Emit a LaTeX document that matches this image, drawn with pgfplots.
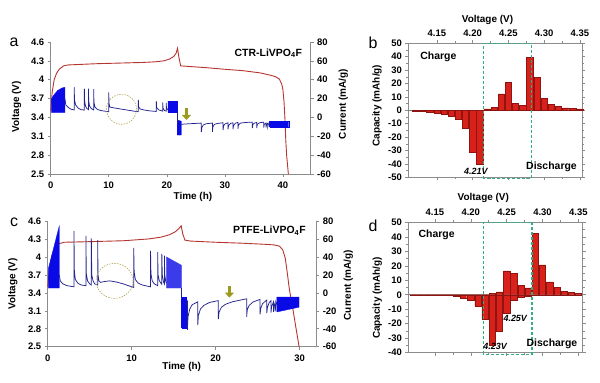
\documentclass[border=0pt]{standalone}
\usepackage{fontspec}
\setmainfont{Liberation Sans}
\usepackage{pgfplots}
\pgfplotsset{compat=1.18}
\usetikzlibrary{arrows.meta}

\definecolor{redc}{HTML}{B5342E}
\definecolor{bluef}{HTML}{0A0AE6}
\definecolor{bluel}{HTML}{23238F}
\definecolor{barfill}{HTML}{D8211B}
\definecolor{baredge}{HTML}{8E1410}
\definecolor{boxg}{HTML}{30B07E}
\definecolor{olivec}{HTML}{9C9A1E}
\definecolor{circc}{HTML}{B3A650}
\definecolor{axg}{HTML}{8C8C8C}

\pgfplotsset{
 base/.style={
  scale only axis,
  /pgf/number format/assume math mode=true,
  tick label style={font=\bfseries\fontsize{9.5}{11}\selectfont, text=black},
  label style={font=\bfseries\fontsize{10}{12}\selectfont},
  axis line style={axg, line width=0.6bp},
  tick style={axg, line width=0.5bp},
  major tick length=3bp, minor tick length=2bp,
  tick align=outside,
  clip=false,
 },
}

\begin{document}
\begin{tikzpicture}[x=1bp,y=1bp]
\useasboundingbox (0,0) rectangle (600,382);

% ---------------- panel a ----------------
\begin{axis}[base, at={(50.7bp,208bp)}, anchor=south west, width=260bp, height=132bp,
 xmin=0, xmax=44.8, ymin=2.5, ymax=4.6,
 axis x line*=bottom, axis y line*=left,
 xtick={0,10,20,30,40}, ytick={2.5,2.8,3.1,3.4,3.7,4.0,4.3,4.6},
 xlabel={Time (h)}, ylabel={Voltage (V)},
 xlabel style={at={(axis description cs:0.547,-0.172)}, anchor=center},
 ylabel style={at={(axis description cs:-0.131,0.51)}, anchor=center},
 xticklabel style={yshift=-1.5bp}]
\addplot[redc, line width=0.9bp] coordinates {(0,3.5)(0.25,3.8)(0.6,4.0)(1.0,4.1)(1.5,4.17)(2.2,4.22)(3,4.235)(8,4.255)(12,4.265)(16,4.275)(18,4.285)(19.5,4.3)(20.5,4.33)(21.2,4.37)(21.6,4.42)(21.85,4.5)(22.1,4.35)(22.4,4.22)(24,4.21)(27,4.19)(30,4.166)(33,4.145)(36,4.11)(37.7,4.075)(38.7,4.05)(39.4,4.01)(39.8,3.93)(40.0,3.85)(40.2,3.65)(40.35,3.4)(40.5,3.05)(40.65,2.8)(40.95,2.5)};
\addplot[fill=bluef, draw=bluef, line width=0.3bp] coordinates {(0.1,3.48)(0.1,3.68)(0.4,3.74)(0.75,3.78)(1.2,3.83)(1.6,3.85)(2.0,3.87)(2.45,3.88)(2.45,3.48)(0.1,3.48)};
\addplot[fill=bluef, draw=bluef, line width=0.3bp] coordinates {(20.2,3.49)(20.2,3.66)(21.8,3.66)(21.8,3.49)(20.2,3.49)};
\addplot[fill=bluef, draw=bluef, line width=0.3bp] coordinates {(21.8,3.12)(21.8,3.36)(22.5,3.34)(22.5,3.12)(21.8,3.12)};
\addplot[fill=bluef, draw=bluef, line width=0.3bp] coordinates {(37.7,3.24)(37.7,3.34)(41.0,3.34)(41.0,3.24)(37.7,3.24)};
\addplot[bluel, line width=0.75bp] coordinates {(2.45,3.7)(2.6,3.6)(3.0,3.56)(3.5,3.53)(4.05,3.52)(4.05,3.88)(4.1,3.68)(4.3,3.6)(4.7,3.55)(5.2,3.525)(5.8,3.515)(5.8,3.86)(5.85,3.66)(6.0,3.58)(6.2,3.545)(6.5,3.525)(6.5,3.86)(6.55,3.66)(6.7,3.58)(7.0,3.54)(7.4,3.52)(7.4,3.85)(7.45,3.65)(7.6,3.57)(8.0,3.53)(8.6,3.51)(9.3,3.5)(10.0,3.49)(10.0,3.8)(10.05,3.62)(10.2,3.565)(11,3.55)(12,3.535)(13,3.52)(14,3.505)(15.1,3.49)(15.1,3.68)(15.15,3.57)(15.4,3.535)(16,3.52)(17,3.505)(18.2,3.495)(18.2,3.66)(18.25,3.56)(18.6,3.52)(19.3,3.5)(19.3,3.64)(19.35,3.55)(19.6,3.51)(19.9,3.5)(19.9,3.63)(19.95,3.55)(20.2,3.52)};
\addplot[bluel, line width=0.75bp] coordinates {(21.8,3.49)(21.8,3.3)};
\addplot[bluel, line width=0.75bp] coordinates {(22.5,3.29)(23,3.295)(24,3.30)(25,3.305)(25.96,3.31)(25.96,3.165)(26.05,3.24)(26.3,3.28)(26.8,3.30)(27.86,3.31)(27.86,3.17)(27.95,3.25)(28.2,3.29)(28.8,3.305)(29.7,3.315)(29.7,3.2)(29.8,3.27)(30.1,3.3)(30.55,3.315)(30.55,3.21)(30.65,3.27)(31.0,3.305)(31.4,3.315)(31.4,3.21)(31.5,3.27)(31.85,3.31)(32.26,3.32)(32.26,3.22)(32.35,3.28)(32.7,3.31)(33.6,3.32)(34.74,3.325)(34.74,3.23)(34.85,3.29)(35.1,3.31)(35.5,3.32)(35.5,3.23)(35.6,3.29)(36.0,3.315)(36.7,3.325)(36.7,3.24)(36.8,3.29)(37.1,3.31)(37.1,3.24)(37.2,3.29)(37.4,3.31)(37.4,3.25)(37.5,3.29)(37.7,3.31)};
\draw[circc, line width=0.6bp, dash pattern=on 1.5bp off 1.2bp] (axis cs:12.2,3.53) circle[radius=15bp];
\draw[olivec, line width=3.5bp, -{Triangle[length=5bp,width=9bp]}] (axis cs:23.4,3.55) -- (axis cs:23.4,3.36);
\node[anchor=east, font=\bfseries\fontsize{10.5}{12}\selectfont] at (axis cs:43.9,4.42) {CTR-LiVPO\textsubscript{4}F};
\end{axis}
\begin{axis}[base, at={(50.7bp,208bp)}, anchor=south west, width=260bp, height=132bp,
 xmin=0, xmax=44.8, ymin=-60, ymax=80, axis y line*=right, axis x line=none,
 ytick={-60,-40,...,80}, ylabel={Current (mA/g)},
 ylabel style={at={(axis description cs:1.125,0.53)}, anchor=center}]
\addplot[draw=none] coordinates {(0,0)};
\end{axis}

% ---------------- panel c ----------------
\begin{axis}[base, at={(47.7bp,35.3bp)}, anchor=south west, width=268.6bp, height=125.7bp,
 xmin=0, xmax=32, ymin=2.5, ymax=4.6,
 axis x line*=bottom, axis y line*=left,
 xtick={0,10,20,30}, ytick={2.5,2.8,3.1,3.4,3.7,4.0,4.3,4.6},
 xlabel={Time (h)}, ylabel={Voltage (V)},
 xlabel style={at={(axis description cs:0.499,-0.159)}, anchor=center},
 ylabel style={at={(axis description cs:-0.13,0.5)}, anchor=center},
 xticklabel style={yshift=-1.5bp}]
\addplot[redc, line width=0.9bp] coordinates {(0,3.5)(0.2,3.8)(0.5,4.02)(0.9,4.16)(1.3,4.22)(2,4.245)(5,4.255)(9,4.27)(12,4.3)(13.5,4.33)(14.5,4.37)(15.2,4.42)(15.6,4.47)(15.9,4.52)(16.1,4.38)(16.35,4.28)(17,4.265)(20,4.245)(23,4.23)(26,4.21)(27,4.2)(27.6,4.18)(28.0,4.12)(28.3,3.98)(28.5,3.78)(28.8,3.45)(29.1,3.22)(29.5,2.88)(29.95,2.5)};
\addplot[fill=bluef, draw=bluef, line width=0.3bp] coordinates {(0.07,3.48)(0.07,3.8)(1.38,4.52)(1.38,3.48)(0.07,3.48)};
\addplot[fill=bluef!80, draw=bluef!80, line width=0.3bp] coordinates {(14.15,3.48)(14.15,4.0)(15.95,3.86)(15.95,3.48)(14.15,3.48)};
\addplot[fill=bluef, draw=bluef, line width=0.3bp] coordinates {(15.95,2.81)(15.95,3.33)(16.5,3.33)(16.5,2.81)(15.95,2.81)};
\addplot[fill=bluef, draw=bluef, line width=0.3bp] coordinates {(27.3,3.08)(27.3,3.33)(29.95,3.33)(29.95,3.16)(27.3,3.08)};
\addplot[bluel, line width=0.75bp] coordinates {(1.38,3.7)(1.5,3.6)(1.8,3.55)(2.3,3.52)(3.13,3.5)(3.13,4.43)(3.18,3.75)(3.3,3.62)(3.6,3.56)(4.0,3.53)(4.55,3.52)(4.55,4.35)(4.6,3.72)(4.75,3.6)(5.0,3.55)(5.2,3.53)(5.2,4.31)(5.25,3.7)(5.4,3.6)(5.6,3.55)(5.95,3.53)(5.95,4.28)(6.0,3.7)(6.1,3.6)(6.3,3.575)(6.8,3.59)(7.4,3.6)(8.2,3.58)(9.0,3.55)(9.6,3.52)(10.25,3.49)(10.25,4.15)(10.3,3.75)(10.45,3.62)(10.8,3.56)(11.3,3.53)(12.25,3.5)(12.25,4.1)(12.3,3.72)(12.45,3.6)(12.7,3.55)(13.1,3.52)(13.1,4.08)(13.15,3.7)(13.3,3.6)(13.6,3.54)(13.6,4.05)(13.65,3.7)(13.8,3.58)(13.9,3.55)(13.9,4.02)(13.95,3.7)(14.05,3.6)(14.15,3.56)};
\addplot[bluel, line width=0.75bp] coordinates {(15.95,3.48)(15.95,3.3)};
\addplot[bluel, line width=0.75bp] coordinates {(16.5,3.2)(16.64,3.25)(16.64,2.78)(16.72,3.0)(16.9,3.12)(17.2,3.2)(17.88,3.25)(17.88,2.86)(17.95,3.02)(18.2,3.13)(18.6,3.19)(19.3,3.24)(20.33,3.27)(20.33,2.96)(20.42,3.08)(20.7,3.16)(21.2,3.21)(22.0,3.25)(23.0,3.28)(23.7,3.3)(23.7,3.0)(23.78,3.12)(24.0,3.19)(24.5,3.25)(25.3,3.29)(25.3,3.04)(25.38,3.14)(25.6,3.22)(26.1,3.28)(26.1,3.06)(26.18,3.16)(26.4,3.24)(26.6,3.27)(26.6,3.07)(26.68,3.17)(26.9,3.25)(26.9,3.08)(26.98,3.18)(27.1,3.24)(27.1,3.09)(27.18,3.18)(27.3,3.25)};
\draw[circc, line width=0.6bp, dash pattern=on 1.5bp off 1.2bp] (axis cs:7.96,3.60) ellipse[x radius=18.5bp, y radius=17.5bp];
\draw[olivec, line width=3.5bp, -{Triangle[length=5bp,width=9bp]}] (axis cs:21.65,3.51) -- (axis cs:21.65,3.32);
\node[anchor=east, font=\bfseries\fontsize{10.5}{12}\selectfont] at (axis cs:31.15,4.433) {PTFE-LiVPO\textsubscript{4}F};
\end{axis}
\begin{axis}[base, at={(47.7bp,35.3bp)}, anchor=south west, width=268.6bp, height=125.7bp,
 xmin=0, xmax=32, ymin=-60, ymax=80, axis y line*=right, axis x line=none,
 ytick={-60,-40,...,80}, ylabel={Current (mA/g)},
 ylabel style={at={(axis description cs:1.119,0.49)}, anchor=center}]
\addplot[draw=none] coordinates {(0,0)};
\end{axis}

% ---------------- panel b ----------------
\begin{axis}[base, at={(408.3bp,204.7bp)}, anchor=south west, width=173.7bp, height=134bp,
 xmin=4.11, xmax=4.353, ymin=-50, ymax=50,
 xtick={4.15,4.2,4.25,4.3,4.35}, xticklabels={4.15,4.20,4.25,4.30,4.35},
 xticklabel pos=upper, minor x tick num=1,
 ytick={-50,-40,...,50}, minor y tick num=1,
 xlabel={Voltage (V)}, ylabel={Capacity (mAh/g)},
 xlabel style={at={(axis description cs:0.456,1.174)}, anchor=center},
 ylabel style={at={(axis description cs:-0.18,0.534)}, anchor=center}]
\addplot[gray, line width=0.5bp] coordinates {(4.11,0)(4.353,0)};
\addplot[ybar, bar shift=0pt, bar width=0.0088, fill=barfill, draw=baredge, line width=0.4bp] coordinates {(4.12,-0.7)(4.13,-1)(4.14,-1.4)(4.15,-1.9)(4.16,-3)(4.17,-4.7)(4.18,-7)(4.19,-13.3)(4.20,-31.5)(4.21,-40.2)};
\addplot[ybar, bar shift=0pt, bar width=0.0088, fill=barfill, draw=baredge, line width=0.4bp] coordinates {(4.22,1)(4.23,2.2)(4.24,12.2)(4.25,20.8)(4.26,5.2)(4.27,3.6)(4.28,39.6)(4.29,24.6)(4.30,8.9)(4.31,4.5)(4.32,2.8)(4.33,1.8)(4.34,1.5)(4.35,1.1)};
\draw[draw=boxg, line width=1.3bp, dash pattern=on 3bp off 2bp] (axis cs:4.2152,-51) -- (axis cs:4.2152,50) -- (axis cs:4.2823,50) -- (axis cs:4.2823,-51) -- cycle;
\node[anchor=west, font=\bfseries\fontsize{10.5}{12}\selectfont] at (axis cs:4.122,40) {Charge};
\node[anchor=west, font=\bfseries\fontsize{10.5}{12}\selectfont] at (axis cs:4.270,-42.1) {Discharge};
\node[font=\bfseries\itshape\fontsize{9}{10}\selectfont] at (axis cs:4.2046,-45.8) {4.21V};
\end{axis}

% ---------------- panel d ----------------
\begin{axis}[base, at={(408.3bp,29.3bp)}, anchor=south west, width=174.4bp, height=130.4bp,
 xmin=4.113, xmax=4.356, ymin=-40, ymax=50,
 xtick={4.15,4.2,4.25,4.3,4.35}, xticklabels={4.15,4.20,4.25,4.30,4.35},
 xticklabel pos=upper, minor x tick num=1,
 ytick={-40,-30,...,50}, minor y tick num=1,
 xlabel={Voltage (V)}, ylabel={Capacity (mAh/g)},
 xlabel style={at={(axis description cs:0.43,1.19)}, anchor=center},
 ylabel style={at={(axis description cs:-0.178,0.42)}, anchor=center}]
\addplot[gray, line width=0.5bp] coordinates {(4.113,0)(4.356,0)};
\addplot[ybar, bar shift=0pt, bar width=0.0088, fill=barfill, draw=baredge, line width=0.4bp] coordinates {(4.12,-0.2)(4.13,-0.3)(4.14,-0.3)(4.15,-0.4)(4.16,-0.5)(4.17,-0.6)(4.18,-1.2)(4.19,-2.5)(4.20,-4.1)(4.21,-7.8)(4.22,-17)(4.23,-35)(4.24,-25)(4.25,-12.6)(4.26,-3.9)(4.27,-1.5)(4.28,-0.8)};
\addplot[ybar, bar shift=0pt, bar width=0.0088, fill=barfill, draw=baredge, line width=0.4bp] coordinates {(4.23,1.2)(4.24,2)(4.25,16.5)(4.26,15)(4.27,6.4)(4.28,4.8)(4.29,42.5)(4.30,20.6)(4.31,8.9)(4.32,5)(4.33,2.5)(4.34,1.6)(4.35,1.1)};
\draw[draw=boxg, line width=1.3bp, dash pattern=on 3bp off 2bp] (axis cs:4.2177,-41) -- (axis cs:4.2177,50) -- (axis cs:4.2853,50) -- (axis cs:4.2853,-41) -- cycle;
\node[anchor=west, font=\bfseries\fontsize{10.5}{12}\selectfont] at (axis cs:4.1224,41.2) {Charge};
\node[anchor=west, font=\bfseries\fontsize{10.5}{12}\selectfont] at (axis cs:4.273,-34) {Discharge};
\node[font=\bfseries\itshape\fontsize{9}{10}\selectfont] at (axis cs:4.262,-16.3) {4.25V};
\node[font=\bfseries\itshape\fontsize{9}{10}\selectfont] at (axis cs:4.234,-35.9) {4.23V};
\end{axis}

% panel letters
\node[font=\fontsize{16}{17}\selectfont] at (14,339.3) {a};
\node[font=\fontsize{16}{17}\selectfont] at (373,339.3) {b};
\node[font=\fontsize{16}{17}\selectfont] at (14,159.7) {c};
\node[font=\fontsize{16}{17}\selectfont] at (373,156) {d};
\end{tikzpicture}
\end{document}
